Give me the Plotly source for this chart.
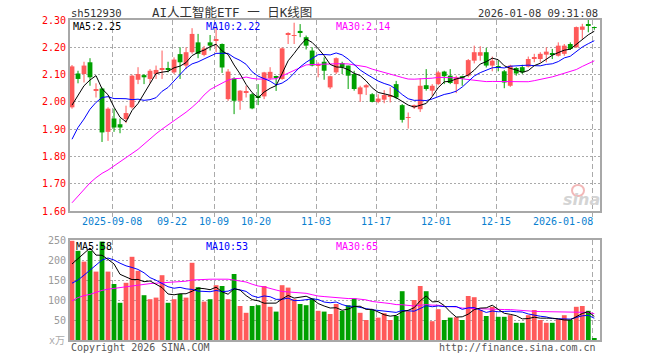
import plotly.graph_objects as go
import pandas as pd

# ---------------- data ----------------
dates = [
    "2025-08-28", "2025-08-29", "2025-09-01", "2025-09-02", "2025-09-03", "2025-09-04", "2025-09-05",
    "2025-09-08", "2025-09-09", "2025-09-10", "2025-09-11", "2025-09-12", "2025-09-15", "2025-09-16",
    "2025-09-17", "2025-09-18", "2025-09-19", "2025-09-22", "2025-09-23", "2025-09-24", "2025-09-25",
    "2025-09-26", "2025-09-29", "2025-09-30", "2025-10-09", "2025-10-10", "2025-10-13", "2025-10-14",
    "2025-10-15", "2025-10-16", "2025-10-17", "2025-10-20", "2025-10-21", "2025-10-22", "2025-10-23",
    "2025-10-24", "2025-10-27", "2025-10-28", "2025-10-29", "2025-10-30", "2025-10-31", "2025-11-03",
    "2025-11-04", "2025-11-05", "2025-11-06", "2025-11-07", "2025-11-10", "2025-11-11", "2025-11-12",
    "2025-11-13", "2025-11-14", "2025-11-17", "2025-11-18", "2025-11-19", "2025-11-20", "2025-11-21",
    "2025-11-24", "2025-11-25", "2025-11-26", "2025-11-27", "2025-11-28", "2025-12-01", "2025-12-02",
    "2025-12-03", "2025-12-04", "2025-12-05", "2025-12-08", "2025-12-09", "2025-12-10", "2025-12-11",
    "2025-12-12", "2025-12-15", "2025-12-16", "2025-12-17", "2025-12-18", "2025-12-19", "2025-12-22",
    "2025-12-23", "2025-12-24", "2025-12-25", "2025-12-26", "2025-12-29", "2025-12-30", "2025-12-31",
    "2026-01-05", "2026-01-06", "2026-01-07", "2026-01-08",
]

opens = [
    1.980, 2.104, 2.102, 2.145, 2.042, 2.049, 1.890, 1.939, 1.918, 1.937,
    1.980, 2.081, 2.098, 2.084, 2.102, 2.118, 2.124, 2.108, 2.175, 2.133,
    2.182, 2.218, 2.172, 2.218, 2.226, 2.212, 2.010, 2.086, 2.004, 2.036,
    2.028, 2.022, 2.020, 2.086, 2.092, 2.084, 2.248, 2.242, 2.260, 2.237,
    2.188, 2.133, 2.147, 2.053, 2.108, 2.142, 2.133, 2.102, 2.028, 2.053,
    2.028, 2.000, 2.008, 2.021, 2.065, 1.988, 1.941, 1.980, 1.973, 2.061,
    2.041, 2.065, 2.111, 2.096, 2.065, 2.094, 2.096, 2.151, 2.169, 2.182,
    2.133, 2.131, 2.112, 2.059, 2.124, 2.127, 2.129, 2.160, 2.157, 2.173,
    2.177, 2.169, 2.176, 2.212, 2.200, 2.264, 2.281, 2.272,
]
highs = [
    2.135, 2.114, 2.147, 2.160, 2.068, 2.052, 1.980, 1.975, 1.939, 1.986,
    2.100, 2.127, 2.102, 2.120, 2.133, 2.188, 2.147, 2.163, 2.200, 2.200,
    2.270, 2.249, 2.205, 2.245, 2.273, 2.214, 2.120, 2.090, 2.043, 2.059,
    2.032, 2.065, 2.110, 2.127, 2.096, 2.200, 2.255, 2.290, 2.285, 2.243,
    2.200, 2.145, 2.163, 2.096, 2.163, 2.147, 2.133, 2.114, 2.059, 2.065,
    2.032, 2.028, 2.043, 2.053, 2.077, 1.992, 1.961, 1.990, 2.086, 2.120,
    2.065, 2.114, 2.114, 2.120, 2.096, 2.096, 2.157, 2.206, 2.204, 2.198,
    2.166, 2.153, 2.117, 2.136, 2.127, 2.136, 2.166, 2.176, 2.182, 2.200,
    2.194, 2.218, 2.212, 2.218, 2.276, 2.286, 2.300, 2.276,
]
lows = [
    1.975, 2.068, 2.071, 2.059, 2.016, 1.853, 1.857, 1.890, 1.885, 1.922,
    1.975, 2.065, 2.065, 2.069, 2.084, 2.084, 2.108, 2.102, 2.084, 2.120,
    2.176, 2.160, 2.167, 2.188, 2.182, 2.106, 2.004, 1.955, 1.971, 2.016,
    1.973, 1.988, 2.010, 2.081, 2.040, 2.081, 2.212, 2.212, 2.237, 2.192,
    2.130, 2.090, 2.081, 2.047, 2.102, 2.102, 2.047, 2.041, 2.000, 2.025,
    1.998, 1.995, 1.995, 1.998, 2.010, 1.924, 1.902, 1.974, 1.963, 2.041,
    2.022, 2.061, 2.065, 2.065, 2.032, 2.059, 2.090, 2.141, 2.151, 2.126,
    2.112, 2.112, 2.050, 2.055, 2.096, 2.102, 2.126, 2.145, 2.145, 2.145,
    2.157, 2.166, 2.169, 2.190, 2.198, 2.231, 2.255, 2.264,
]
closes = [
    2.130, 2.084, 2.133, 2.090, 2.044, 1.888, 1.975, 1.906, 1.906, 1.959,
    2.096, 2.102, 2.090, 2.114, 2.117, 2.121, 2.117, 2.155, 2.145, 2.182,
    2.249, 2.176, 2.196, 2.206, 2.229, 2.126, 2.111, 2.004, 2.041, 2.038,
    1.976, 2.016, 2.108, 2.110, 2.088, 2.196, 2.250, 2.244, 2.256, 2.206,
    2.133, 2.139, 2.114, 2.094, 2.160, 2.126, 2.096, 2.047, 2.053, 2.061,
    2.000, 2.012, 2.025, 2.023, 2.016, 1.934, 1.943, 1.988, 2.059, 2.047,
    2.059, 2.108, 2.094, 2.069, 2.090, 2.086, 2.153, 2.182, 2.182, 2.133,
    2.151, 2.125, 2.071, 2.133, 2.104, 2.108, 2.157, 2.162, 2.176, 2.184,
    2.175, 2.206, 2.206, 2.194, 2.274, 2.276, 2.279, 2.271,
]
volumes = [
    248, 223, 196, 223, 171, 246, 171, 140, 93, 143,
    208, 173, 112, 102, 106, 162, 93, 102, 115, 106,
    193, 132, 96, 102, 137, 135, 102, 165, 85, 68,
    85, 87, 135, 83, 71, 137, 131, 102, 90, 87,
    104, 73, 71, 65, 90, 73, 87, 104, 68, 50,
    75, 56, 67, 50, 60, 122, 72, 100, 135, 122,
    47, 77, 50, 56, 57, 50, 110, 107, 75, 60,
    83, 58, 58, 62, 43, 43, 62, 75, 50, 43,
    43, 52, 62, 50, 83, 85, 73, 3,
]

# moving-average values at the start of the window (read from the chart,
# they depend on sessions before the first candle)
ma5_head = [1.988, 2.025, 2.059, 2.080]
ma10_head = [1.863, 1.906, 1.937, 1.973, 1.998, 2.016, 2.019, 2.012, 2.012]
ma30_head = [1.630, 1.655, 1.680, 1.703, 1.722, 1.738, 1.750, 1.765, 1.782, 1.797,
             1.810, 1.826, 1.845, 1.865, 1.883, 1.900, 1.915, 1.930, 1.945, 1.962,
             1.980, 2.000, 2.025, 2.045, 2.057, 2.070, 2.080, 2.085, 2.086]
vma5_head = [190, 203, 215, 230]
vma10_head = [142, 150, 162, 175, 187, 200, 205, 200, 192]
vma30_head = [98, 106, 111, 114, 119, 124, 127, 129, 131, 133,
              136, 138, 140, 141, 142, 143, 144, 145, 146, 147,
              150, 151, 152, 152, 152, 152, 152, 150, 148]

tick_dates = ["2025-09-08", "2025-09-22", "2025-10-09", "2025-10-20", "2025-11-03",
              "2025-11-17", "2025-12-01", "2025-12-15", "2026-01-08"]
tick_labels = ["2025-09-08", "09-22", "10-09", "10-20", "11-03", "11-17", "12-01", "12-15", "2026-01-08"]
price_ticks = [1.60, 1.70, 1.80, 1.90, 2.00, 2.10, 2.20, 2.30]
vol_ticks = [50, 100, 150, 200, 250]

price_ma_labels = ["MA5:2.25", "MA10:2.22", "MA30:2.14"]
vol_ma_labels = ["MA5:58", "MA10:53", "MA30:65"]

# ---------------- derived ----------------
n = len(dates)
idx = list(range(n))
RED = "#ff5a5a"
GREEN = "#00a000"
colors = [RED if c >= o else GREEN for o, c in zip(opens, closes)]

cs = pd.Series(closes)
vs = pd.Series(volumes)


def ma(series, w, head):
    r = series.rolling(w).mean().tolist()
    return head + r[len(head):]


ma5 = ma(cs, 5, ma5_head)
ma10 = ma(cs, 10, ma10_head)
ma30 = ma(cs, 30, ma30_head)
vma5 = ma(vs, 5, vma5_head)
vma10 = ma(vs, 10, vma10_head)
vma30 = ma(vs, 30, vma30_head)

tick_idx = [dates.index(d) for d in tick_dates]
grid_x = [i - 0.3 for i in tick_idx]

MONO = "DejaVu Sans Mono"
CJK = "DejaVu Sans Mono, Noto Sans CJK SC"

fig = go.Figure()

# candle bodies
fig.add_trace(go.Bar(
    x=idx,
    base=[min(o, c) for o, c in zip(opens, closes)],
    y=[max(abs(c - o), 0.003) for o, c in zip(opens, closes)],
    marker=dict(color=colors, line=dict(width=0)),
    width=0.8, xaxis="x", yaxis="y", hoverinfo="skip",
))

# wicks
for col in (RED, GREEN):
    wx, wy = [], []
    for i in idx:
        if colors[i] == col:
            wx += [i, i, None]
            wy += [lows[i], highs[i], None]
    fig.add_trace(go.Scatter(x=wx, y=wy, mode="lines", line=dict(color=col, width=1),
                             xaxis="x", yaxis="y", hoverinfo="skip"))

for series, col in ((ma30, "#ff00ff"), (ma10, "#0000ff"), (ma5, "#000000")):
    fig.add_trace(go.Scatter(x=idx, y=series, mode="lines", line=dict(color=col, width=1),
                             xaxis="x", yaxis="y", hoverinfo="skip"))

# volume
fig.add_trace(go.Bar(
    x=idx, y=volumes, marker=dict(color=colors, line=dict(width=0)),
    width=0.8, xaxis="x2", yaxis="y2", hoverinfo="skip",
))
for series, col in ((vma30, "#ff00ff"), (vma10, "#0000ff"), (vma5, "#000000")):
    fig.add_trace(go.Scatter(x=idx, y=series, mode="lines", line=dict(color=col, width=1),
                             xaxis="x2", yaxis="y2", hoverinfo="skip"))

L, R, T, B = 70, 60, 20, 20
W, H = 660, 360
PW, PH = W - L - R, H - T - B


def px(xp):
    return (xp - L) / PW


def py(yp):
    return (H - B - yp) / PH


grid_col = "#aaaaaa"
border_col = "#a8a8a8"
xr = [-0.333, 87.95]

fig.update_layout(
    width=W, height=H, margin=dict(l=L, r=R, t=T, b=B),
    paper_bgcolor="white", plot_bgcolor="white", showlegend=False, barmode="overlay",
    xaxis=dict(domain=[0, 1], anchor="y", range=xr, tickmode="array", tickvals=grid_x,
               showticklabels=False, ticks="outside", ticklen=4, tickcolor=grid_col,
               showgrid=True, gridcolor=grid_col, griddash="5px,3px", gridwidth=1,
               showline=True, linecolor=border_col, linewidth=2, mirror=True, zeroline=False),
    yaxis=dict(domain=[py(211), 1], anchor="x", range=[1.60, 2.30], tickmode="array",
               tickvals=price_ticks, ticktext=["%.2f" % v for v in price_ticks],
               tickfont=dict(family=MONO, size=10, color="#ff0000"), ticks="",
               showgrid=True, gridcolor=grid_col, griddash="2px,2px", gridwidth=1,
               showline=True, linecolor=border_col, linewidth=2, mirror=True, zeroline=False),
    xaxis2=dict(domain=[0, 1], anchor="y2", range=xr, matches="x", tickmode="array",
                tickvals=grid_x, showticklabels=False, ticks="",
                showgrid=True, gridcolor=grid_col, griddash="5px,3px", gridwidth=1,
                showline=True, linecolor=border_col, linewidth=2, mirror=True, zeroline=False),
    yaxis2=dict(domain=[0, py(240)], anchor="x2", range=[0, 250], tickmode="array",
                tickvals=vol_ticks, tickfont=dict(family=MONO, size=10, color="#999999"), ticks="",
                showgrid=True, gridcolor=grid_col, griddash="2px,2px", gridwidth=1,
                showline=True, linecolor=border_col, linewidth=2, mirror=True, zeroline=False),
)

ann = []


def text(x, y, s, color="#333333", size=10, xanchor="left", family=MONO, xref="paper", **kw):
    ann.append(dict(x=x, y=y, xref=xref, yref="paper", text=s, showarrow=False,
                    xanchor=xanchor, yanchor="middle",
                    font=dict(family=family, size=size, color=color, **kw)))


text(px(69), py(13), "sh512930", size=10.5)
text(px(150), py(13), "AI人工智能ETF 一 日K线图", size=12.5, xanchor="left", family=CJK)
text(px(600), py(13), "2026-01-08 09:31:08", size=10.5, xanchor="right")

text(px(71), py(26.5), price_ma_labels[0], color="#000000")
text(px(204), py(26.5), price_ma_labels[1], color="#0000ff")
text(px(334), py(26.5), price_ma_labels[2], color="#ff00ff")

text(px(74), py(246.5), vol_ma_labels[0], color="#000000")
text(px(204), py(246.5), vol_ma_labels[1], color="#0000ff")
text(px(334), py(246.5), vol_ma_labels[2], color="#ff00ff")

for i, (gx, lab) in enumerate(zip(grid_x, tick_labels)):
    if i == len(tick_labels) - 1:
        text(gx + 0.35, py(221), lab, color="#0a7fd0", xanchor="right", xref="x")
    else:
        text(gx, py(221), lab, color="#0a7fd0", xanchor="center", xref="x")

text(px(67), py(340), "x万", color="#aaaaaa", xanchor="right", family=CJK)
text(px(69), py(347), "Copyright 2026 SINA.COM", color="#555555")
text(px(598), py(347), "http://finance.sina.com.cn", color="#555555", xanchor="right")
text(px(581), py(199), "sina", color="#d4d4d4", size=16, xanchor="center",
     family="DejaVu Sans", style="italic", weight="bold")

fig.update_layout(
    annotations=ann,
    shapes=[dict(type="circle", xref="paper", yref="paper",
                 x0=px(572), x1=px(584), y0=py(196), y1=py(185),
                 line=dict(color="#f2b8b8", width=2), layer="below")],
)
fig.write_html("out.html", config={"displayModeBar": False},
               post_script="document.body.style.margin='0px';document.body.style.overflow='hidden';")
